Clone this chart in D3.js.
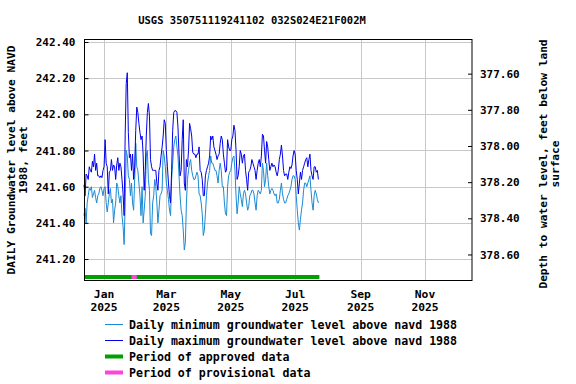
<!DOCTYPE html>
<html>
<head>
<meta charset="utf-8">
<script src="https://cdn.jsdelivr.net/npm/d3@7"></script>
<style>
  body { margin: 0; background: #fff; }
  svg text { font-family: "DejaVu Sans Mono", monospace; font-weight: bold; fill: #000; }
</style>
</head>
<body>
<svg id="chart" width="576" height="384"></svg>
<script>
// daily values, first day 2024-12-13
const firstDay = "2024-12-13";

const dailyMax = [
  241.61, 241.55, 241.67, 241.66, 241.64, 241.71, 241.69, 241.68, 241.74, 241.71,
  241.78, 241.69, 241.73, 241.66, 241.66, 241.65, 241.66, 241.65, 241.69, 241.71,
  241.86, 241.73, 241.71, 241.56, 241.68, 241.69, 241.75, 241.69, 241.72, 241.71,
  241.64, 241.72, 241.76, 241.69, 241.73, 241.71, 241.64, 241.56, 241.44, 241.89,
  242.17, 242.23, 241.90, 241.76, 241.78, 241.69, 241.78, 241.64, 241.71, 241.91,
  242.04, 242.01, 241.95, 241.90, 241.86, 241.88, 241.78, 241.58, 241.69, 241.88,
  242.01, 242.06, 241.99, 241.75, 241.71, 241.69, 241.69, 241.69, 241.69, 241.62,
  241.58, 241.69, 241.71, 241.77, 241.82, 241.88, 241.97, 241.95, 241.80, 241.71,
  241.62, 241.55, 241.51, 241.69, 241.91, 242.01, 242.02, 242.02, 242.01, 241.93,
  241.78, 241.66, 241.69, 241.86, 241.97, 241.62, 241.58, 241.75, 241.71, 241.80,
  241.95, 241.92, 241.88, 241.79, 241.78, 241.78, 241.76, 241.78, 241.78, 241.82,
  241.69, 241.68, 241.64, 241.55, 241.55, 241.66, 241.69, 241.71, 241.73, 241.77,
  241.88, 241.86, 241.88, 241.82, 241.80, 241.78, 241.75, 241.77, 241.78, 241.84,
  241.88, 241.86, 241.78, 241.73, 241.68, 241.69, 241.86, 241.82, 241.80, 241.80,
  241.86, 241.88, 241.94, 241.91, 241.80, 241.64, 241.66, 241.71, 241.80, 241.78,
  241.73, 241.77, 241.78, 241.69, 241.64, 241.58, 241.68, 241.69, 241.71, 241.75,
  241.73, 241.71, 241.69, 241.64, 241.69, 241.73, 241.75, 241.71, 241.77, 241.89,
  241.88, 241.80, 241.73, 241.85, 241.82, 241.75, 241.69, 241.71, 241.73, 241.71,
  241.72, 241.71, 241.68, 241.66, 241.69, 241.75, 241.78, 241.83, 241.77, 241.69,
  241.66, 241.67, 241.67, 241.64, 241.68, 241.71, 241.70, 241.72, 241.77, 241.80,
  241.78, 241.69, 241.64, 241.56, 241.62, 241.68, 241.64, 241.69, 241.71, 241.73,
  241.75, 241.76, 241.71, 241.75, 241.78, 241.69, 241.66, 241.64, 241.71, 241.71,
  241.68, 241.69, 241.64
];

const dailyMin = [
  241.44, 241.48, 241.40, 241.51, 241.55, 241.59, 241.58, 241.60, 241.54, 241.56,
  241.58, 241.54, 241.51, 241.55, 241.56, 241.59, 241.60, 241.58, 241.55, 241.59,
  241.60, 241.51, 241.46, 241.51, 241.56, 241.59, 241.51, 241.53, 241.40, 241.47,
  241.51, 241.62, 241.60, 241.55, 241.51, 241.55, 241.44, 241.38, 241.28, 241.51,
  241.80, 241.77, 241.66, 241.64, 241.55, 241.62, 241.51, 241.47, 241.64, 241.84,
  241.71, 241.69, 241.62, 241.55, 241.44, 241.60, 241.40, 241.47, 241.55, 241.77,
  241.80, 241.64, 241.58, 241.34, 241.33, 241.51, 241.55, 241.64, 241.60, 241.51,
  241.40, 241.47, 241.55, 241.56, 241.58, 241.80, 241.77, 241.71, 241.62, 241.58,
  241.53, 241.47, 241.44, 241.64, 241.73, 241.82, 241.86, 241.88, 241.82, 241.77,
  241.66, 241.55, 241.47, 241.44, 241.36, 241.25, 241.29, 241.51, 241.64, 241.69,
  241.73, 241.75, 241.69, 241.66, 241.64, 241.64, 241.66, 241.68, 241.66, 241.56,
  241.55, 241.51, 241.45, 241.33, 241.36, 241.45, 241.55, 241.62, 241.66, 241.69,
  241.77, 241.73, 241.73, 241.71, 241.69, 241.69, 241.66, 241.62, 241.69, 241.73,
  241.69, 241.60, 241.60, 241.51, 241.45, 241.44, 241.60, 241.66, 241.68, 241.69,
  241.73, 241.76, 241.77, 241.69, 241.55, 241.45, 241.51, 241.60, 241.56, 241.53,
  241.49, 241.56, 241.58, 241.56, 241.51, 241.47, 241.49, 241.55, 241.56, 241.58,
  241.58, 241.56, 241.51, 241.47, 241.55, 241.58, 241.57, 241.56, 241.58, 241.73,
  241.69, 241.60, 241.64, 241.73, 241.66, 241.60, 241.56, 241.58, 241.59, 241.58,
  241.56, 241.55, 241.56, 241.51, 241.51, 241.53, 241.58, 241.62, 241.56, 241.53,
  241.51, 241.51, 241.53, 241.55, 241.56, 241.58, 241.60, 241.64, 241.66, 241.66,
  241.64, 241.55, 241.47, 241.40, 241.36, 241.42, 241.47, 241.51, 241.58, 241.62,
  241.62, 241.60, 241.62, 241.64, 241.66, 241.58, 241.51, 241.47, 241.55, 241.58,
  241.56, 241.53, 241.51
];

const approvedPeriods = [["2024-12-13", "2025-01-27"], ["2025-01-31", "2025-07-23"]];
const provisionalPeriods = [["2025-01-27", "2025-01-31"]];

const levelTicks = [241.2, 241.4, 241.6, 241.8, 242.0, 242.2, 242.4];
const depthTicks = [377.6, 377.8, 378.0, 378.2, 378.4, 378.6];
const monthTicks = ["2025-01-01", "2025-03-01", "2025-05-01", "2025-07-01", "2025-09-01", "2025-11-01"];
const landSurface = 619.825;

const legendItems = [
  { label: "Daily minimum groundwater level above navd 1988", color: "#1a8ad4", width: 1 },
  { label: "Daily maximum groundwater level above navd 1988", color: "#0000ee", width: 1 },
  { label: "Period of approved data", color: "#00a000", width: 4 },
  { label: "Period of provisional data", color: "#ff44dd", width: 4 }
];

const parse = d3.timeParse("%Y-%m-%d");

const vis = {

    svg : d3.select("#chart"),

    plot : { left : 84.5, right : 472, top : 39, bottom : 280 },

    x : null,
    y : null,
    yDepth : null,

    make_scales : function() {

        const p = this.plot;

        this.x = d3.scaleTime()
          .domain([parse("2024-12-13"), new Date(2025, 11, 15, 12)])
          .range([84, p.right]);

        this.y = d3.scaleLinear()
          .domain([241.2, 242.4])
          .range([259, 42]);

        this.yDepth = d3.scaleLinear()
          .domain([landSurface - 241.2, landSurface - 242.4])
          .range([259, 42]);

    },

    grid : function() {

        const p = this.plot;
        const g = this.svg.append("g").attr("stroke", "#c8c8c8").attr("stroke-width", 1);

        g.selectAll(".hgrid")
          .data(levelTicks)
          .join("line")
          .attr("x1", p.left)
          .attr("x2", p.right)
          .attr("y1", d => Math.round(this.y(d)) + 0.5)
          .attr("y2", d => Math.round(this.y(d)) + 0.5);

        g.selectAll(".vgrid")
          .data(monthTicks)
          .join("line")
          .attr("x1", d => Math.round(this.x(parse(d))) + 0.5)
          .attr("x2", d => Math.round(this.x(parse(d))) + 0.5)
          .attr("y1", p.top)
          .attr("y2", p.bottom);

    },

    axes : function() {

        const p = this.plot;

        const left = d3.axisLeft(this.y)
          .tickValues(levelTicks)
          .tickFormat(d3.format(".2f"))
          .tickSizeInner(-4)
          .tickSizeOuter(0)
          .tickPadding(9);

        this.svg.append("g")
          .attr("transform", `translate(${p.left},0)`)
          .call(left)
          .call(g => g.select(".domain").remove())
          .call(g => g.selectAll("text").attr("font-size", 11).attr("font-family", null))
          .call(g => g.selectAll("line").attr("stroke", "#000"));

        const right = d3.axisRight(this.yDepth)
          .tickValues(depthTicks)
          .tickFormat(d3.format(".2f"))
          .tickSizeInner(-4)
          .tickSizeOuter(0)
          .tickPadding(8);

        this.svg.append("g")
          .attr("transform", `translate(${p.right},0)`)
          .call(right)
          .call(g => g.select(".domain").remove())
          .call(g => g.selectAll("text").attr("font-size", 11).attr("font-family", null))
          .call(g => g.selectAll("line").attr("stroke", "#000"));

        // month labels on two lines
        const labels = this.svg.append("g")
          .selectAll("text")
          .data(monthTicks)
          .join("text")
          .attr("text-anchor", "middle")
          .attr("font-size", 11.3)
          .attr("x", d => this.x(parse(d)));

        labels.append("tspan")
          .attr("x", d => this.x(parse(d)))
          .attr("y", 298)
          .text(d => d3.timeFormat("%b")(parse(d)));

        labels.append("tspan")
          .attr("x", d => this.x(parse(d)))
          .attr("y", 311)
          .text(d => d3.timeFormat("%Y")(parse(d)));

    },

    series : function() {

        const days = dailyMax.map((v, i) => d3.timeDay.offset(parse(firstDay), i));

        const line = d3.line()
          .x((d, i) => this.x(days[i]))
          .y(d => this.y(d));

        this.svg.append("path")
          .datum(dailyMin)
          .attr("fill", "none")
          .attr("stroke", legendItems[0].color)
          .attr("stroke-width", 1)
          .attr("d", line);

        this.svg.append("path")
          .datum(dailyMax)
          .attr("fill", "none")
          .attr("stroke", legendItems[1].color)
          .attr("stroke-width", 1)
          .attr("d", line);

    },

    periods : function() {

        const bar = (list, color) => {
            this.svg.append("g")
              .selectAll("rect")
              .data(list)
              .join("rect")
              .attr("x", d => this.x(parse(d[0])))
              .attr("width", d => this.x(parse(d[1])) - this.x(parse(d[0])) + 1)
              .attr("y", 275)
              .attr("height", 4)
              .attr("fill", color);
        };

        bar(approvedPeriods, legendItems[2].color);
        bar(provisionalPeriods, legendItems[3].color);

    },

    frame : function() {

        const p = this.plot;

        this.svg.append("rect")
          .attr("x", p.left)
          .attr("y", p.top + 0.5)
          .attr("width", p.right - p.left)
          .attr("height", p.bottom - p.top)
          .attr("fill", "none")
          .attr("stroke", "#000")
          .attr("stroke-width", 1);

    },

    titles : function() {

        this.svg.append("text")
          .attr("x", 252)
          .attr("y", 24)
          .attr("text-anchor", "middle")
          .attr("font-size", 10.5)
          .text("USGS 350751119241102 032S024E21F002M");

        const leftLabel = this.svg.append("text")
          .attr("transform", "translate(15,160) rotate(-90)")
          .attr("text-anchor", "middle")
          .attr("font-size", 11.2);

        leftLabel.append("tspan").attr("x", 0).attr("y", 0).text("DAILY Groundwater level above NAVD");
        leftLabel.append("tspan").attr("x", 0).attr("y", 12).text("1988, feet");

        const rightLabel = this.svg.append("text")
          .attr("transform", "translate(547,164) rotate(-90)")
          .attr("text-anchor", "middle")
          .attr("font-size", 11.2);

        rightLabel.append("tspan").attr("x", 0).attr("y", 0).text("Depth to water level, feet below land");
        rightLabel.append("tspan").attr("x", 0).attr("y", 12).text("surface");

    },

    legend : function() {

        const rows = this.svg.append("g")
          .selectAll("g")
          .data(legendItems)
          .join("g")
          .attr("transform", (d, i) => `translate(0,${324.5 + i * 16})`);

        rows.append("line")
          .attr("x1", 105)
          .attr("x2", 123)
          .attr("stroke", d => d.color)
          .attr("stroke-width", d => d.width);

        rows.append("text")
          .attr("x", 129)
          .attr("y", 4)
          .attr("font-size", 11.6)
          .text(d => d.label);

    },

    ctrl : {

        init : function() {
            vis.make_scales();
            vis.grid();
            vis.series();
            vis.periods();
            vis.frame();
            vis.axes();
            vis.titles();
            vis.legend();
        }

    }

};

vis.ctrl.init();
</script>
</body>
</html>
